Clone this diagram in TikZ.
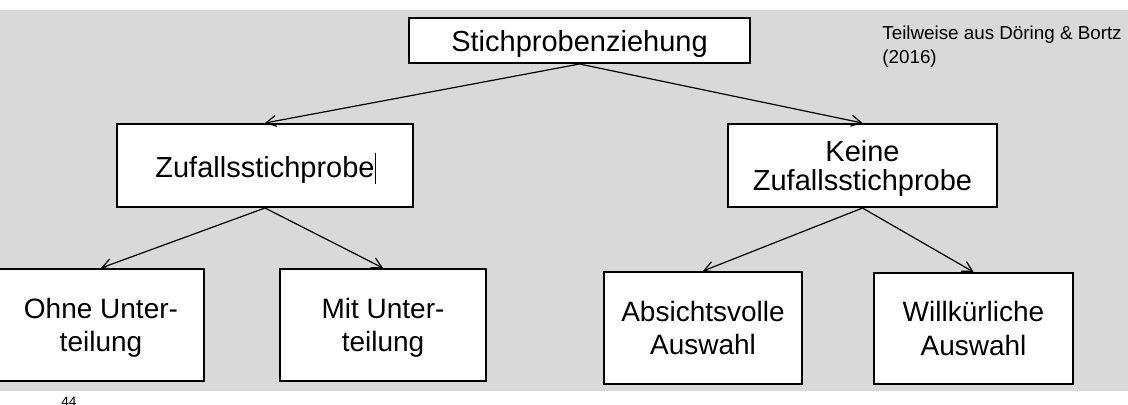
\documentclass[tikz,border=0pt]{standalone}
\usepackage{fontspec}
\setmainfont{Liberation Sans}
\usetikzlibrary{arrows.meta, positioning}
\definecolor{slidegray}{HTML}{D9D9D9}
\tikzstyle{block}=[draw,fill=white,rectangle,line width=1pt,align=center,inner sep=0pt,text depth=0pt,font=\fontsize{14.5}{14.5}\selectfont]
\tikzstyle{leaf}=[block,font=\fontsize{14}{16.8}\selectfont]
\tikzstyle{note}=[align=left,inner sep=0pt,font=\fontsize{9.4}{12}\selectfont]
\newcommand{\cursorbar}{\rlap{\hspace{0.4pt}\rule[-0.2em]{0.5pt}{1.05em}}}

\begin{document}
\begin{tikzpicture}[x=0.5pt,y=-0.5pt,>={Straight Barb[length=5pt,width=5.5pt]}]
    \useasboundingbox (0,0) rectangle (1128,404);
    \fill[slidegray] (0,10) rectangle (1128,391);
    \node[block, minimum width=170.5pt, minimum height=22.5pt] (root) at (579.5,40.5) {Stichprobenziehung};
    \node[block, minimum width=148pt, minimum height=41.5pt] (zufall) at (265,165.5) {Zufallsstichprobe\cursorbar};
    \node[block, minimum width=134.5pt, minimum height=41.5pt] (keine) at (862.5,165.5) {Keine\\Zufallsstichprobe};
    \node[leaf, minimum width=102.5pt, minimum height=56pt] (ohne) at (101,325) {Ohne Unter-\\teilung};
    \node[leaf, minimum width=103pt, minimum height=56pt] (mit) at (383,325) {Mit Unter-\\teilung};
    \node[leaf, minimum width=99pt, minimum height=56pt] (absicht) at (703,328) {Absichtsvolle\\Auswahl};
    \node[leaf, minimum width=99.5pt, minimum height=55.5pt] (willk) at (973.5,328.5) {Willkürliche\\Auswahl};
    \node[note, anchor=north west] (quelle) at (882,25) {Teilweise aus Döring \& Bortz\\(2016)};
    \node[inner sep=0pt, anchor=north west, font=\fontsize{6.8}{7}\selectfont] (seite) at (61,397) {44};
    \draw[->, line width=0.6pt] (root.south) -- (zufall.north);
    \draw[->, line width=0.6pt] (root.south) -- (keine.north);
    \draw[->, line width=0.6pt] (zufall.south) -- (ohne.north);
    \draw[->, line width=0.6pt] (zufall.south) -- (mit.north);
    \draw[->, line width=0.6pt] (keine.south) -- (absicht.north);
    \draw[->, line width=0.6pt] (keine.south) -- (willk.north);
\end{tikzpicture}
\end{document}
